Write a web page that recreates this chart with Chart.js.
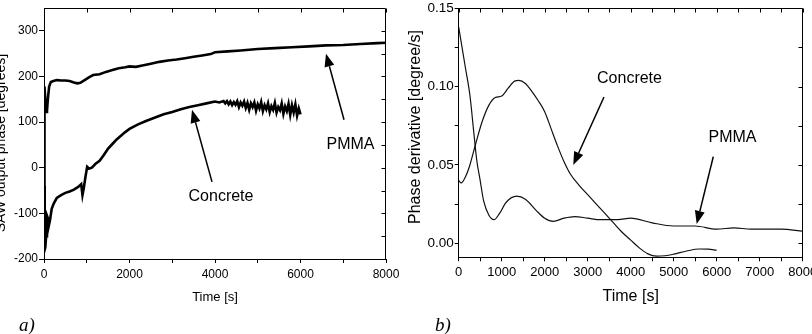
<!DOCTYPE html>
<html>
<head>
<meta charset="utf-8">
<script src="https://cdn.jsdelivr.net/npm/chart.js@4.4.1/dist/chart.umd.min.js"></script>
<style>
  html, body { margin: 0; padding: 0; background: #fff; }
  #wrap { position: relative; width: 812px; height: 334px; overflow: hidden; background: #fff; }
  #phaseChart { position: absolute; left: 0; top: 0; }
  #derivChart { position: absolute; left: 400px; top: 0; }
</style>
</head>
<body>
<div id="wrap">
  <canvas id="phaseChart" width="400" height="334"></canvas>
  <canvas id="derivChart" width="412" height="334"></canvas>
</div>
<script>

// a) SAW output phase [degrees] vs time [s]

var pmmaPhaseTime = [0, 8, 15, 30, 50, 70, 90, 120, 160, 220, 300, 400, 500, 600, 700, 780, 850, 950, 1050, 1150, 1300, 1450, 1600, 1750, 1900, 2000, 2150, 2300, 2500, 2700, 2900, 3100, 3300, 3500, 3700, 3900, 4000, 4300, 4600, 5000, 5400, 5800, 6200, 6600, 7000, 7400, 7800, 8000];
var pmmaPhase = [-175, 175, 178, 150, 122, 125, 150, 178, 188, 190, 192, 191, 191, 190, 187, 185, 186, 192, 198, 203, 205, 210, 214, 218, 220, 222, 221, 224, 228, 232, 235, 237, 240, 243, 246, 249, 253, 255, 257, 260, 262, 264, 266, 268, 269, 271, 273, 274];

var concretePhaseTime = [0, 15, 30, 50, 70, 90, 110, 140, 180, 230, 300, 400, 500, 600, 700, 800, 870, 900, 930, 970, 1010, 1060, 1120, 1200, 1300, 1400, 1500, 1600, 1700, 1800, 1900, 2000, 2200, 2400, 2600, 2800, 3000, 3200, 3400, 3600, 3800, 4000, 4100, 4200,
  4240, 4280, 4320, 4360, 4400, 4440, 4480, 4520, 4560, 4600,
  4640, 4680, 4720, 4760, 4800, 4840, 4880, 4920, 4960, 5000,
  5040, 5080, 5120, 5160, 5200, 5240, 5280, 5320, 5360, 5400,
  5440, 5480, 5520, 5560, 5600, 5640, 5680, 5720, 5760, 5800,
  5840, 5880, 5920, 5960, 6000];
var concretePhase = [-40, -180, -175, -150, -105, -110, -128, -115, -90, -78, -66, -60, -55, -52, -48, -42, -36, -60, -45, -20, 2, -2, 0, 8, 15, 28, 42, 52, 62, 70, 78, 85, 95, 103, 110, 117, 122, 128, 133, 137, 141, 145, 143, 146,
  141, 146, 139, 145, 137, 144, 138, 146, 133, 143,
  136, 145, 131, 142, 127, 141, 133, 143, 125, 139,
  130, 144, 124, 137, 128, 141, 122, 135, 127, 142,
  121, 133, 126, 141, 118, 134, 124, 140, 116, 137,
  121, 139, 114, 130, 117];

var phaseTicksX = [0, 1000, 2000, 3000, 4000, 5000, 6000, 7000, 8000];
var phaseTicksY = [-200, -100, 0, 100, 200, 300];
var phaseRightTicksY = [-150, -100, -50, 0, 50, 100, 150, 200, 250, 300];

// b) Phase derivative [degree/s] vs time [s]

var pmmaDerivTime = [0, 150, 263, 350, 420, 500, 580, 700, 820, 950, 1100, 1350, 1550, 1800, 2000, 2200, 2450, 2700, 3000, 3300, 3700, 4000, 4500, 5000, 5500, 6000, 6400, 6800, 7500, 8000];
var pmmaDeriv = [0.138, 0.113, 0.094, 0.071, 0.053, 0.040, 0.027, 0.018, 0.015, 0.019, 0.026, 0.030, 0.028, 0.021, 0.016, 0.014, 0.016, 0.017, 0.016, 0.015, 0.015, 0.016, 0.013, 0.011, 0.011, 0.009, 0.0098, 0.009, 0.009, 0.0077];

var concreteDerivTime = [0, 60, 150, 250, 400, 550, 700, 850, 1000, 1150, 1300, 1400, 1550, 1700, 1850, 2000, 2150, 2300, 2450, 2600, 2800, 3000, 3200, 3400, 3600, 3800, 4000, 4200, 4400, 4600, 4800, 5000, 5300, 5600, 5800, 6000];
var concreteDeriv = [0.040, 0.0385, 0.042, 0.049, 0.064, 0.078, 0.088, 0.093, 0.094, 0.099, 0.1035, 0.104, 0.102, 0.097, 0.091, 0.084, 0.073, 0.062, 0.052, 0.044, 0.037, 0.031, 0.025, 0.019, 0.013, 0.007, 0.002, -0.003, -0.0068, -0.0083, -0.008, -0.007, -0.005, -0.0037, -0.0038, -0.0045];

var derivTicksX = [0, 500, 1000, 1500, 2000, 2500, 3000, 3500, 4000, 4500, 5000, 5500, 6000, 6500, 7000, 7500, 8000];
var derivTicksY = [0, 0.025, 0.05, 0.075, 0.1, 0.125, 0.15];


function toPoints(xs, ys) {
  return xs.map(function (x, i) { return { x: x, y: ys[i] }; });
}

function drawArrow(ctx, x1, y1, x2, y2, head, half) {
  var ang = Math.atan2(y2 - y1, x2 - x1);
  var bx = x2 - head * Math.cos(ang), by = y2 - head * Math.sin(ang);
  ctx.beginPath();
  ctx.moveTo(x1, y1);
  ctx.lineTo(bx, by);
  ctx.stroke();
  ctx.beginPath();
  ctx.moveTo(x2, y2);
  ctx.lineTo(bx + half * Math.sin(ang), by - half * Math.cos(ang));
  ctx.lineTo(bx - half * Math.sin(ang), by + half * Math.cos(ang));
  ctx.closePath();
  ctx.fill();
}

// frame, inward ticks on top/right, rotated y title, notes and arrows
var decorations = {
  id: 'decorations',
  afterDraw: function (chart, args, o) {
    var ctx = chart.ctx, a = chart.chartArea;
    var sx = chart.scales.x, sy = chart.scales.y;
    ctx.save();
    ctx.strokeStyle = '#000';
    ctx.fillStyle = '#000';
    ctx.lineWidth = 1;

    ctx.beginPath();
    var top = Math.round(a.top) + 0.5, right = Math.round(a.right) - 0.5;
    ctx.moveTo(a.left, top);
    ctx.lineTo(right, top);
    ctx.lineTo(right, a.bottom);
    o.topTicks.forEach(function (v) {
      var px = Math.round(sx.getPixelForValue(v)) + 0.5;
      ctx.moveTo(px, top);
      ctx.lineTo(px, top + 4);
    });
    o.rightTicks.forEach(function (v) {
      var py = Math.round(sy.getPixelForValue(v)) + 0.5;
      ctx.moveTo(right, py);
      ctx.lineTo(right - 4, py);
    });
    ctx.stroke();

    // y axis title
    ctx.save();
    ctx.font = o.yTitle.font;
    ctx.textAlign = 'center';
    ctx.textBaseline = 'middle';
    ctx.translate(o.yTitle.x, o.yTitle.y);
    ctx.rotate(-Math.PI / 2);
    ctx.fillText(o.yTitle.text, 0, 0);
    ctx.restore();

    // labels inside the plot
    ctx.font = '16px "Liberation Sans", Arial, sans-serif';
    ctx.textAlign = 'center';
    ctx.textBaseline = 'middle';
    o.notes.forEach(function (n) {
      ctx.fillText(n.text, sx.getPixelForValue(n.x), sy.getPixelForValue(n.y));
    });
    ctx.lineWidth = 1.5;
    o.arrows.forEach(function (ar) {
      drawArrow(ctx,
        sx.getPixelForValue(ar.from[0]), sy.getPixelForValue(ar.from[1]),
        sx.getPixelForValue(ar.to[0]), sy.getPixelForValue(ar.to[1]), 13, 5);
    });

    // panel letter
    ctx.font = 'italic 19px "Liberation Serif", "Times New Roman", serif';
    ctx.textAlign = 'left';
    ctx.textBaseline = 'alphabetic';
    ctx.fillText(o.panel.text, o.panel.x, o.panel.y);
    ctx.restore();
  }
};

function fixedBox(w, h) {
  return function (scale) {
    if (w != null) scale.width = w;
    if (h != null) scale.height = h;
    scale.paddingLeft = 0;
    scale.paddingRight = 0;
    scale.paddingTop = 0;
    scale.paddingBottom = 0;
  };
}

function useTicks(list) {
  return function (scale) {
    scale.ticks = list.map(function (v) { return { value: v }; });
  };
}

var axisGrid = { display: true, drawOnChartArea: false, drawTicks: true, tickLength: 4, color: '#000', lineWidth: 1 };
var axisBorder = { display: true, color: '#000', width: 1 };

Chart.defaults.font.family = '"Liberation Sans", Arial, sans-serif';
Chart.defaults.color = '#000';

//left panel

var ctx = document.getElementById('phaseChart').getContext('2d');
var chart = new Chart(ctx, {
  type: 'line',
  data: {
    datasets: [{
      label: 'PMMA',
      data: toPoints(pmmaPhaseTime, pmmaPhase),
      borderColor: '#000',
      borderWidth: 2.6,
      pointRadius: 0,
      tension: 0
    }, {
      label: 'Concrete',
      data: toPoints(concretePhaseTime, concretePhase),
      borderColor: '#000',
      borderWidth: 2.6,
      pointRadius: 0,
      tension: 0
    }]
  },
  plugins: [decorations],
  options: {
    responsive: false,
    animation: false,
    devicePixelRatio: 1,
    layout: { padding: { left: 0, right: 14, top: 8, bottom: 0 } },
    plugins: {
      legend: { display: false },
      tooltip: { enabled: false },
      decorations: {
        topTicks: phaseTicksX,
        rightTicks: phaseRightTicksY,
        yTitle: { text: 'SAW output phase [degrees]', x: 1.5, y: 143, font: '14px "Liberation Sans", Arial, sans-serif' },
        notes: [
          { text: 'PMMA', x: 7170, y: 51 },
          { text: 'Concrete', x: 4140, y: -64 }
        ],
        arrows: [
          { from: [7018, 105], to: [6596, 250] },
          { from: [3930, -31], to: [3462, 127] }
        ],
        panel: { text: 'a)', x: 19, y: 331 }
      }
    },
    scales: {
      x: {
        type: 'linear',
        min: 0,
        max: 8000,
        afterBuildTicks: useTicks(phaseTicksX),
        afterFit: fixedBox(null, 75),
        grid: axisGrid,
        border: axisBorder,
        ticks: {
          autoSkip: false,
          maxRotation: 0,
          padding: 4,
          font: { size: 12 },
          callback: function (v) { return v % 2000 === 0 ? String(v) : ''; }
        },
        title: { display: true, text: 'Time [s]', font: { size: 13 }, padding: { top: 0, bottom: 29 } }
      },
      y: {
        type: 'linear',
        min: -200,
        max: 350,
        afterBuildTicks: useTicks(phaseTicksY),
        afterFit: fixedBox(44, null),
        grid: Object.assign({}, axisGrid, { tickLength: 5 }),
        border: axisBorder,
        ticks: { autoSkip: false, padding: 1, font: { size: 12 } }
      }
    }
  }
});

//right panel

var ctx = document.getElementById('derivChart').getContext('2d');
var chart = new Chart(ctx, {
  type: 'line',
  data: {
    datasets: [{
      label: 'PMMA',
      data: toPoints(pmmaDerivTime, pmmaDeriv),
      borderColor: '#111',
      borderWidth: 1.2,
      pointRadius: 0,
      cubicInterpolationMode: 'monotone'
    }, {
      label: 'Concrete',
      data: toPoints(concreteDerivTime, concreteDeriv),
      borderColor: '#111',
      borderWidth: 1.2,
      pointRadius: 0,
      cubicInterpolationMode: 'monotone'
    }]
  },
  plugins: [decorations],
  options: {
    responsive: false,
    animation: false,
    devicePixelRatio: 1,
    layout: { padding: { left: 0, right: 9.3, top: 8.3, bottom: 0 } },
    plugins: {
      legend: { display: false },
      tooltip: { enabled: false },
      decorations: {
        topTicks: derivTicksX,
        rightTicks: derivTicksY,
        yTitle: { text: 'Phase derivative [degree/s]', x: 16, y: 127, font: '16px "Liberation Sans", Arial, sans-serif' },
        notes: [
          { text: 'Concrete', x: 3972, y: 0.1052 },
          { text: 'PMMA', x: 6367, y: 0.0676 }
        ],
        arrows: [
          { from: [3379, 0.0934], to: [2665, 0.050] },
          { from: [5921, 0.0553], to: [5535, 0.0123] }
        ],
        panel: { text: 'b)', x: 35, y: 331 }
      }
    },
    scales: {
      x: {
        type: 'linear',
        min: 0,
        max: 8000,
        afterBuildTicks: useTicks(derivTicksX),
        afterFit: fixedBox(null, 76.7),
        grid: axisGrid,
        border: axisBorder,
        ticks: {
          autoSkip: false,
          maxRotation: 0,
          padding: 3,
          font: { size: 13 },
          callback: function (v) { return v % 1000 === 0 ? String(v) : ''; }
        },
        title: { display: true, text: 'Time [s]', font: { size: 16 }, padding: { top: 0, bottom: 28 } }
      },
      y: {
        type: 'linear',
        min: -0.009,
        max: 0.15,
        afterBuildTicks: useTicks(derivTicksY),
        afterFit: fixedBox(58.7, null),
        grid: axisGrid,
        border: axisBorder,
        ticks: {
          autoSkip: false,
          padding: 1,
          font: { size: 13.5 },
          callback: function (v) { return Math.round(v * 1000) % 50 === 0 ? v.toFixed(2) : ''; }
        }
      }
    }
  }
});

</script>
</body>
</html>
